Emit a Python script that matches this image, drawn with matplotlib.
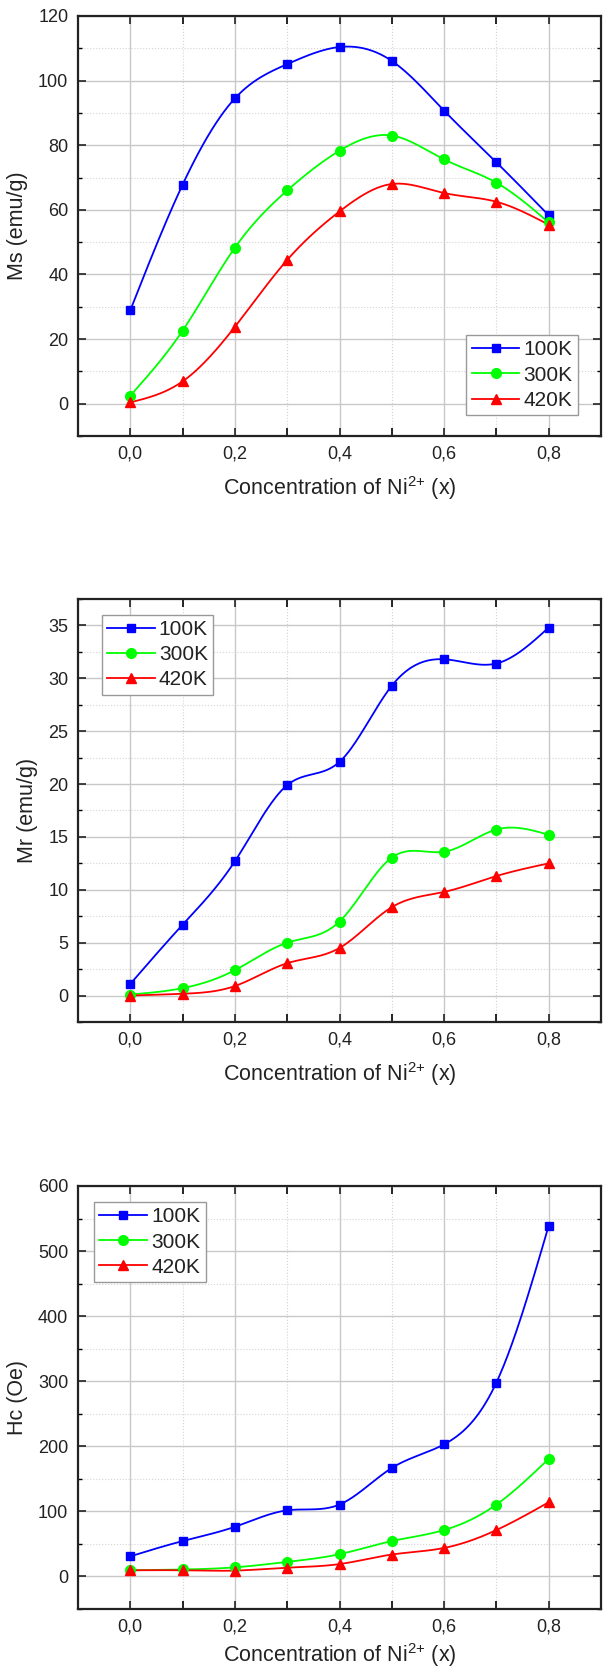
import numpy as np
import matplotlib
matplotlib.use("Agg")
import matplotlib.pyplot as plt
from matplotlib.ticker import MultipleLocator, FuncFormatter

plt.rcParams['font.family'] = ['Liberation Sans', 'DejaVu Sans']
plt.rcParams['mathtext.fontset'] = 'custom'
plt.rcParams['mathtext.rm'] = 'Liberation Sans'
plt.rcParams['mathtext.it'] = 'Liberation Sans'

x = [0.0, 0.1, 0.2, 0.3, 0.4, 0.5, 0.6, 0.7, 0.8]
series_labels = ["100K", "300K", "420K"]

ms_100 = [28.9, 67.8, 94.5, 105.1, 110.4, 106.1, 90.7, 74.7, 58.3]
ms_300 = [2.5, 22.6, 48.3, 66.0, 78.3, 83.0, 75.6, 68.4, 56.1]
ms_420 = [0.4, 6.9, 23.8, 44.5, 59.5, 68.0, 65.2, 62.5, 55.4]

mr_100 = [1.1, 6.7, 12.7, 19.9, 22.1, 29.3, 31.8, 31.4, 34.8]
mr_300 = [0.1, 0.7, 2.4, 5.0, 7.0, 13.05, 13.6, 15.7, 15.2]
mr_420 = [0.0, 0.17, 0.9, 3.06, 4.5, 8.36, 9.8, 11.3, 12.5]

hc_100 = [30.9, 54.4, 76.3, 101.6, 110.5, 166.7, 203.0, 298.0, 539.0]
hc_300 = [9.5, 10.7, 14.0, 22.4, 34.2, 54.4, 71.3, 110.5, 180.7]
hc_420 = [9.5, 9.5, 9.0, 13.5, 19.0, 33.7, 43.8, 71.3, 114.0]

colors = ["#0000FF", "#00FF00", "#FF0000"]
markers = ["s", "o", "^"]
msizes = [6.3, 7.0, 7.8]


def natural_spline(xs, ys, n=300):
    xs = np.asarray(xs, float)
    ys = np.asarray(ys, float)
    k = len(xs)
    h = np.diff(xs)
    A = np.zeros((k, k))
    b = np.zeros(k)
    A[0, 0] = 1
    A[-1, -1] = 1
    for i in range(1, k - 1):
        A[i, i - 1] = h[i - 1]
        A[i, i] = 2 * (h[i - 1] + h[i])
        A[i, i + 1] = h[i]
        b[i] = 6 * ((ys[i + 1] - ys[i]) / h[i] - (ys[i] - ys[i - 1]) / h[i - 1])
    M = np.linalg.solve(A, b)
    xx = np.linspace(xs[0], xs[-1], n)
    idx = np.clip(np.searchsorted(xs, xx) - 1, 0, k - 2)
    x0, x1 = xs[idx], xs[idx + 1]
    hh = x1 - x0
    t0 = x1 - xx
    t1 = xx - x0
    yy = (M[idx] * t0 ** 3 / (6 * hh) + M[idx + 1] * t1 ** 3 / (6 * hh)
          + (ys[idx] / hh - M[idx] * hh / 6) * t0
          + (ys[idx + 1] / hh - M[idx + 1] * hh / 6) * t1)
    return xx, yy


W, H = 608, 1671
fig = plt.figure(figsize=(W / 100, H / 100), dpi=100)

panels = [
    dict(data=[ms_100, ms_300, ms_420], ylabel="Ms (emu/g)", ylim=(-10, 120), major=20, minor=10,
         top=16, bottom=436, xpad=8, legend=dict(loc="lower right", anchor=(0.956, 0.05))),
    dict(data=[mr_100, mr_300, mr_420], ylabel="Mr (emu/g)", ylim=(-2.5, 37.5), major=5, minor=2.5,
         top=599, bottom=1022, xpad=8, legend=dict(loc="upper left", anchor=(0.045, 0.963))),
    dict(data=[hc_100, hc_300, hc_420], ylabel="Hc (Oe)", ylim=(-50, 600), major=100, minor=50,
         top=1186, bottom=1609, xpad=4, legend=dict(loc="upper left", anchor=(0.031, 0.962))),
]

left, right = 78, 601
for p in panels:
    ax = fig.add_axes([left / W, 1 - p["bottom"] / H, (right - left) / W, (p["bottom"] - p["top"]) / H])
    for ys, c, m, ms, lab in zip(p["data"], colors, markers, msizes, series_labels):
        xx, yy = natural_spline(x, ys)
        ax.plot(xx, yy, color=c, lw=1.3, zorder=3)
        ax.plot(x, ys, linestyle="none", marker=m, color=c, markersize=ms, zorder=4)
        ax.plot([], [], color=c, lw=1.3, marker=m, markersize=ms, label=lab)
    ax.set_xlim(-0.1, 0.9)
    ax.set_ylim(*p["ylim"])
    ax.xaxis.set_major_locator(MultipleLocator(0.2))
    ax.xaxis.set_minor_locator(MultipleLocator(0.1))
    ax.yaxis.set_major_locator(MultipleLocator(p["major"]))
    ax.yaxis.set_minor_locator(MultipleLocator(p["minor"]))
    ax.xaxis.set_major_formatter(FuncFormatter(lambda v, pos: f"{v:.1f}".replace(".", ",")))
    ax.yaxis.set_major_formatter(FuncFormatter(lambda v, pos: f"{v:g}"))
    ax.grid(True, which="major", color="#c8c8c8", lw=1.0, ls="-", zorder=0)
    ax.grid(True, which="minor", color="#d4d4d4", lw=0.8, ls=":", zorder=0)
    ax.set_axisbelow(True)
    ax.tick_params(which="major", direction="in", length=6, width=1.2, top=True, right=True,
                   labelsize=13, colors="#222222", pad=7)
    ax.tick_params(axis="y", which="minor", direction="in", length=3, width=1.0, right=True)
    ax.tick_params(axis="x", which="minor", direction="in", length=6, width=1.2, top=True)
    for s in ax.spines.values():
        s.set_linewidth(1.6)
        s.set_color("#222222")
    ax.set_xlabel(r"Concentration of Ni$^{\mathregular{2{+}}}$ (x)", fontsize=15.5, labelpad=p["xpad"],
                  color="#222222")
    ax.set_ylabel(p["ylabel"], fontsize=15.5, labelpad=7, color="#222222")
    leg = ax.legend(loc=p["legend"]["loc"], bbox_to_anchor=p["legend"]["anchor"], fontsize=15,
                    frameon=True, fancybox=False, edgecolor="#999999", framealpha=1,
                    borderaxespad=0, handlelength=2.3, handletextpad=0.2, labelspacing=0.3,
                    borderpad=0.25)
    leg.get_frame().set_linewidth(1.0)
    for t in leg.get_texts():
        t.set_color("#222222")

fig.savefig("out.png", dpi=100, facecolor="white")
